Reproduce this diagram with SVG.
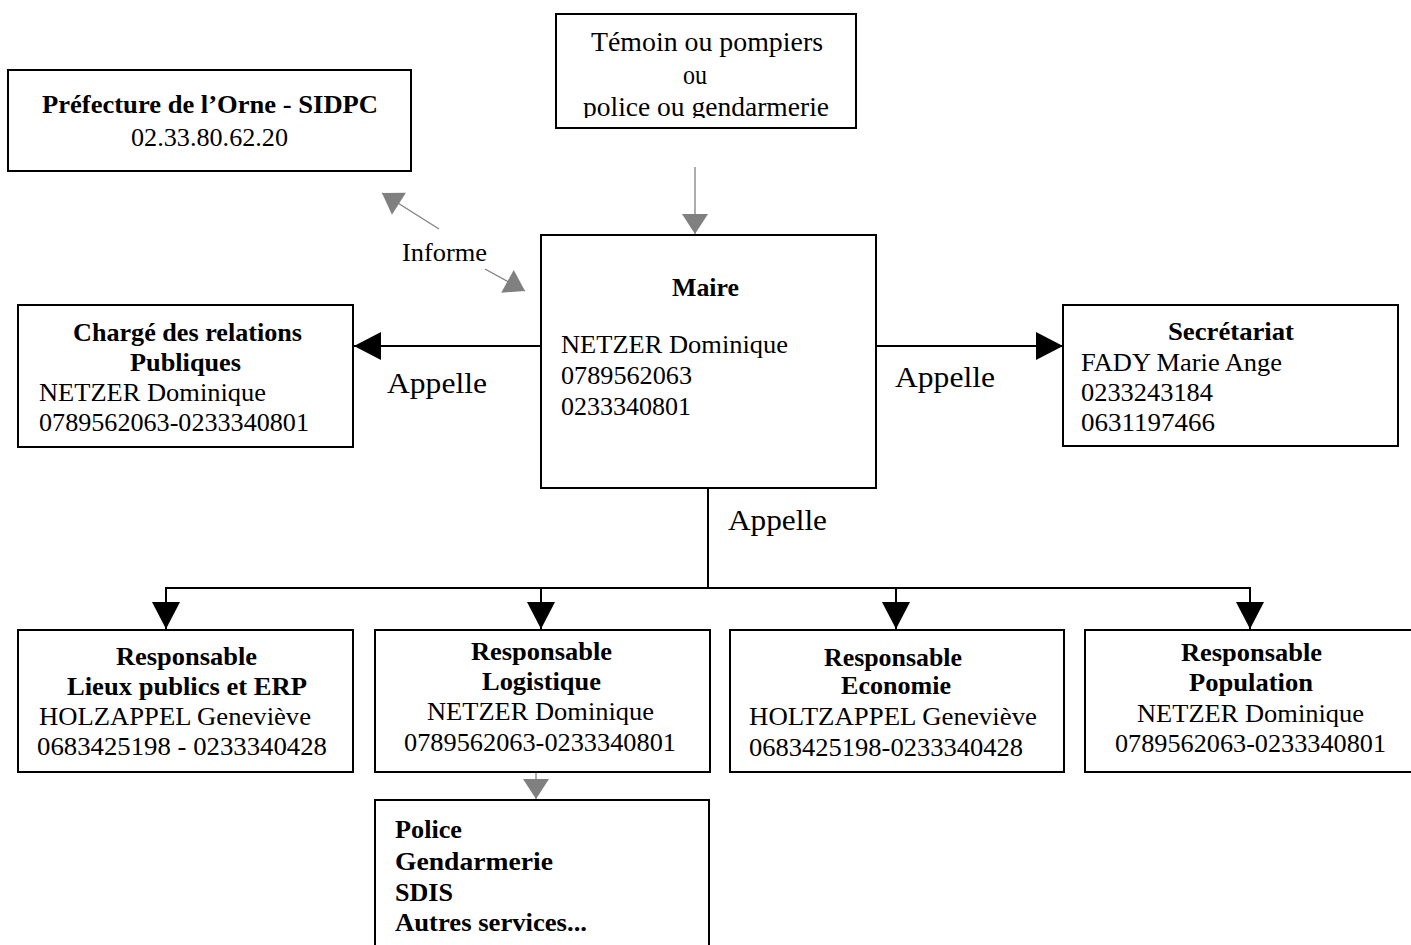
<svg xmlns="http://www.w3.org/2000/svg" width="1411" height="945" viewBox="0 0 1411 945">
<style>
.box{fill:#fff;stroke:#000;stroke-width:2}
.t{font-family:"Liberation Serif","Times New Roman",serif;font-size:25px;fill:#000}
.b{font-weight:bold}
.big{font-size:28px}
.lbl{font-size:30px}
.conn{stroke:#000;stroke-width:2;fill:none}
.gconn{stroke:#808080;stroke-width:1.3;fill:none}
</style>
<defs>
<marker id="blk" markerUnits="userSpaceOnUse" markerWidth="28" markerHeight="28" refX="27" refY="14" orient="auto" overflow="visible">
<path d="M0,0 L27,14 L0,28 z" fill="#000"/>
</marker>
<marker id="gry" markerUnits="userSpaceOnUse" markerWidth="26" markerHeight="26" refX="20" refY="13" orient="auto" overflow="visible">
<path d="M0,0 L20,13 L0,26 z" fill="#808080"/>
</marker>
<clipPath id="clipTop"><rect x="556" y="14" width="300" height="104"/></clipPath>
</defs>
<rect width="1411" height="945" fill="#fff"/>

<g id="connectors">
<line class="gconn" x1="695" y1="167" x2="695" y2="234" marker-end="url(#gry)"/>
<line class="gconn" x1="439" y1="229" x2="382" y2="193" marker-end="url(#gry)"/>
<line class="gconn" x1="485" y1="269" x2="525" y2="291" marker-end="url(#gry)"/>
<line class="gconn" x1="536" y1="772" x2="536" y2="799" marker-end="url(#gry)"/>
<line class="conn" x1="541" y1="346" x2="354" y2="346" marker-end="url(#blk)"/>
<line class="conn" x1="876" y1="346" x2="1063" y2="346" marker-end="url(#blk)"/>
<line class="conn" x1="708" y1="488" x2="708" y2="588"/>
<line class="conn" x1="165" y1="588" x2="1251" y2="588"/>
<line class="conn" x1="166" y1="588" x2="166" y2="629" marker-end="url(#blk)"/>
<line class="conn" x1="541" y1="588" x2="541" y2="629" marker-end="url(#blk)"/>
<line class="conn" x1="896" y1="588" x2="896" y2="629" marker-end="url(#blk)"/>
<line class="conn" x1="1250" y1="588" x2="1250" y2="629" marker-end="url(#blk)"/>
<text class="t" x="402" y="261" textLength="85" lengthAdjust="spacingAndGlyphs">Informe</text>
<text class="t lbl" x="387" y="393" textLength="100" lengthAdjust="spacingAndGlyphs">Appelle</text>
<text class="t lbl" x="895" y="387" textLength="100" lengthAdjust="spacingAndGlyphs">Appelle</text>
<text class="t lbl" x="728" y="530" textLength="99" lengthAdjust="spacingAndGlyphs">Appelle</text>
</g>

<g id="temoin">
<rect class="box" x="556" y="14" width="300" height="114"/>
<g clip-path="url(#clipTop)">
<text class="t big" x="591" y="51" textLength="232" lengthAdjust="spacingAndGlyphs">Témoin ou pompiers</text>
<text class="t big" x="683" y="84" textLength="24" lengthAdjust="spacingAndGlyphs">ou</text>
<text class="t big" x="583" y="116" textLength="246" lengthAdjust="spacingAndGlyphs">police ou gendarmerie</text>
</g>
</g>

<g id="prefecture">
<rect class="box" x="8" y="70" width="403" height="101"/>
<text class="t b" x="42" y="113" textLength="336" lengthAdjust="spacingAndGlyphs">Préfecture de l’Orne - SIDPC</text>
<text class="t" x="131" y="146" textLength="157" lengthAdjust="spacingAndGlyphs">02.33.80.62.20</text>
</g>

<g id="charge">
<rect class="box" x="18" y="305" width="335" height="142"/>
<text class="t b" x="73" y="341" textLength="229" lengthAdjust="spacingAndGlyphs">Chargé des relations</text>
<text class="t b" x="130" y="371" textLength="111" lengthAdjust="spacingAndGlyphs">Publiques</text>
<text class="t" x="39" y="401" textLength="227" lengthAdjust="spacingAndGlyphs">NETZER Dominique</text>
<text class="t" x="39" y="431" textLength="270" lengthAdjust="spacingAndGlyphs">0789562063-0233340801</text>
</g>

<g id="maire">
<rect class="box" x="541" y="235" width="335" height="253"/>
<text class="t b" x="672" y="296" textLength="67" lengthAdjust="spacingAndGlyphs">Maire</text>
<text class="t" x="561" y="353" textLength="227" lengthAdjust="spacingAndGlyphs">NETZER Dominique</text>
<text class="t" x="561" y="384" textLength="131" lengthAdjust="spacingAndGlyphs">0789562063</text>
<text class="t" x="561" y="415" textLength="130" lengthAdjust="spacingAndGlyphs">0233340801</text>
</g>

<g id="secretariat">
<rect class="box" x="1063" y="305" width="335" height="141"/>
<text class="t b" x="1168" y="340" textLength="126" lengthAdjust="spacingAndGlyphs">Secrétariat</text>
<text class="t" x="1081" y="371" textLength="201" lengthAdjust="spacingAndGlyphs">FADY Marie Ange</text>
<text class="t" x="1081" y="401" textLength="132" lengthAdjust="spacingAndGlyphs">0233243184</text>
<text class="t" x="1081" y="431" textLength="134" lengthAdjust="spacingAndGlyphs">0631197466</text>
</g>

<g id="lieux">
<rect class="box" x="18" y="630" width="335" height="142"/>
<text class="t b" x="116" y="665" textLength="141" lengthAdjust="spacingAndGlyphs">Responsable</text>
<text class="t b" x="67" y="695" textLength="240" lengthAdjust="spacingAndGlyphs">Lieux publics et ERP</text>
<text class="t" x="39" y="725" textLength="272" lengthAdjust="spacingAndGlyphs">HOLZAPPEL Geneviève</text>
<text class="t" x="37" y="755" textLength="290" lengthAdjust="spacingAndGlyphs">0683425198 - 0233340428</text>
</g>

<g id="logistique">
<rect class="box" x="375" y="630" width="335" height="142"/>
<text class="t b" x="471" y="660" textLength="141" lengthAdjust="spacingAndGlyphs">Responsable</text>
<text class="t b" x="482" y="690" textLength="119" lengthAdjust="spacingAndGlyphs">Logistique</text>
<text class="t" x="427" y="720" textLength="227" lengthAdjust="spacingAndGlyphs">NETZER Dominique</text>
<text class="t" x="404" y="751" textLength="272" lengthAdjust="spacingAndGlyphs">0789562063-0233340801</text>
</g>

<g id="economie">
<rect class="box" x="730" y="630" width="334" height="142"/>
<text class="t b" x="824" y="666" textLength="138" lengthAdjust="spacingAndGlyphs">Responsable</text>
<text class="t b" x="841" y="694" textLength="110" lengthAdjust="spacingAndGlyphs">Economie</text>
<text class="t" x="749" y="725" textLength="288" lengthAdjust="spacingAndGlyphs">HOLTZAPPEL Geneviève</text>
<text class="t" x="749" y="756" textLength="274" lengthAdjust="spacingAndGlyphs">0683425198-0233340428</text>
</g>

<g id="population">
<rect class="box" x="1085" y="630" width="340" height="142"/>
<text class="t b" x="1181" y="661" textLength="141" lengthAdjust="spacingAndGlyphs">Responsable</text>
<text class="t b" x="1189" y="691" textLength="124" lengthAdjust="spacingAndGlyphs">Population</text>
<text class="t" x="1137" y="722" textLength="227" lengthAdjust="spacingAndGlyphs">NETZER Dominique</text>
<text class="t" x="1115" y="752" textLength="271" lengthAdjust="spacingAndGlyphs">0789562063-0233340801</text>
</g>

<g id="services">
<rect class="box" x="375" y="800" width="334" height="160"/>
<text class="t b" x="395" y="838" textLength="67" lengthAdjust="spacingAndGlyphs">Police</text>
<text class="t b" x="395" y="870" textLength="158" lengthAdjust="spacingAndGlyphs">Gendarmerie</text>
<text class="t b" x="395" y="901" textLength="58" lengthAdjust="spacingAndGlyphs">SDIS</text>
<text class="t b" x="395" y="931" textLength="192" lengthAdjust="spacingAndGlyphs">Autres services...</text>
</g>
</svg>
